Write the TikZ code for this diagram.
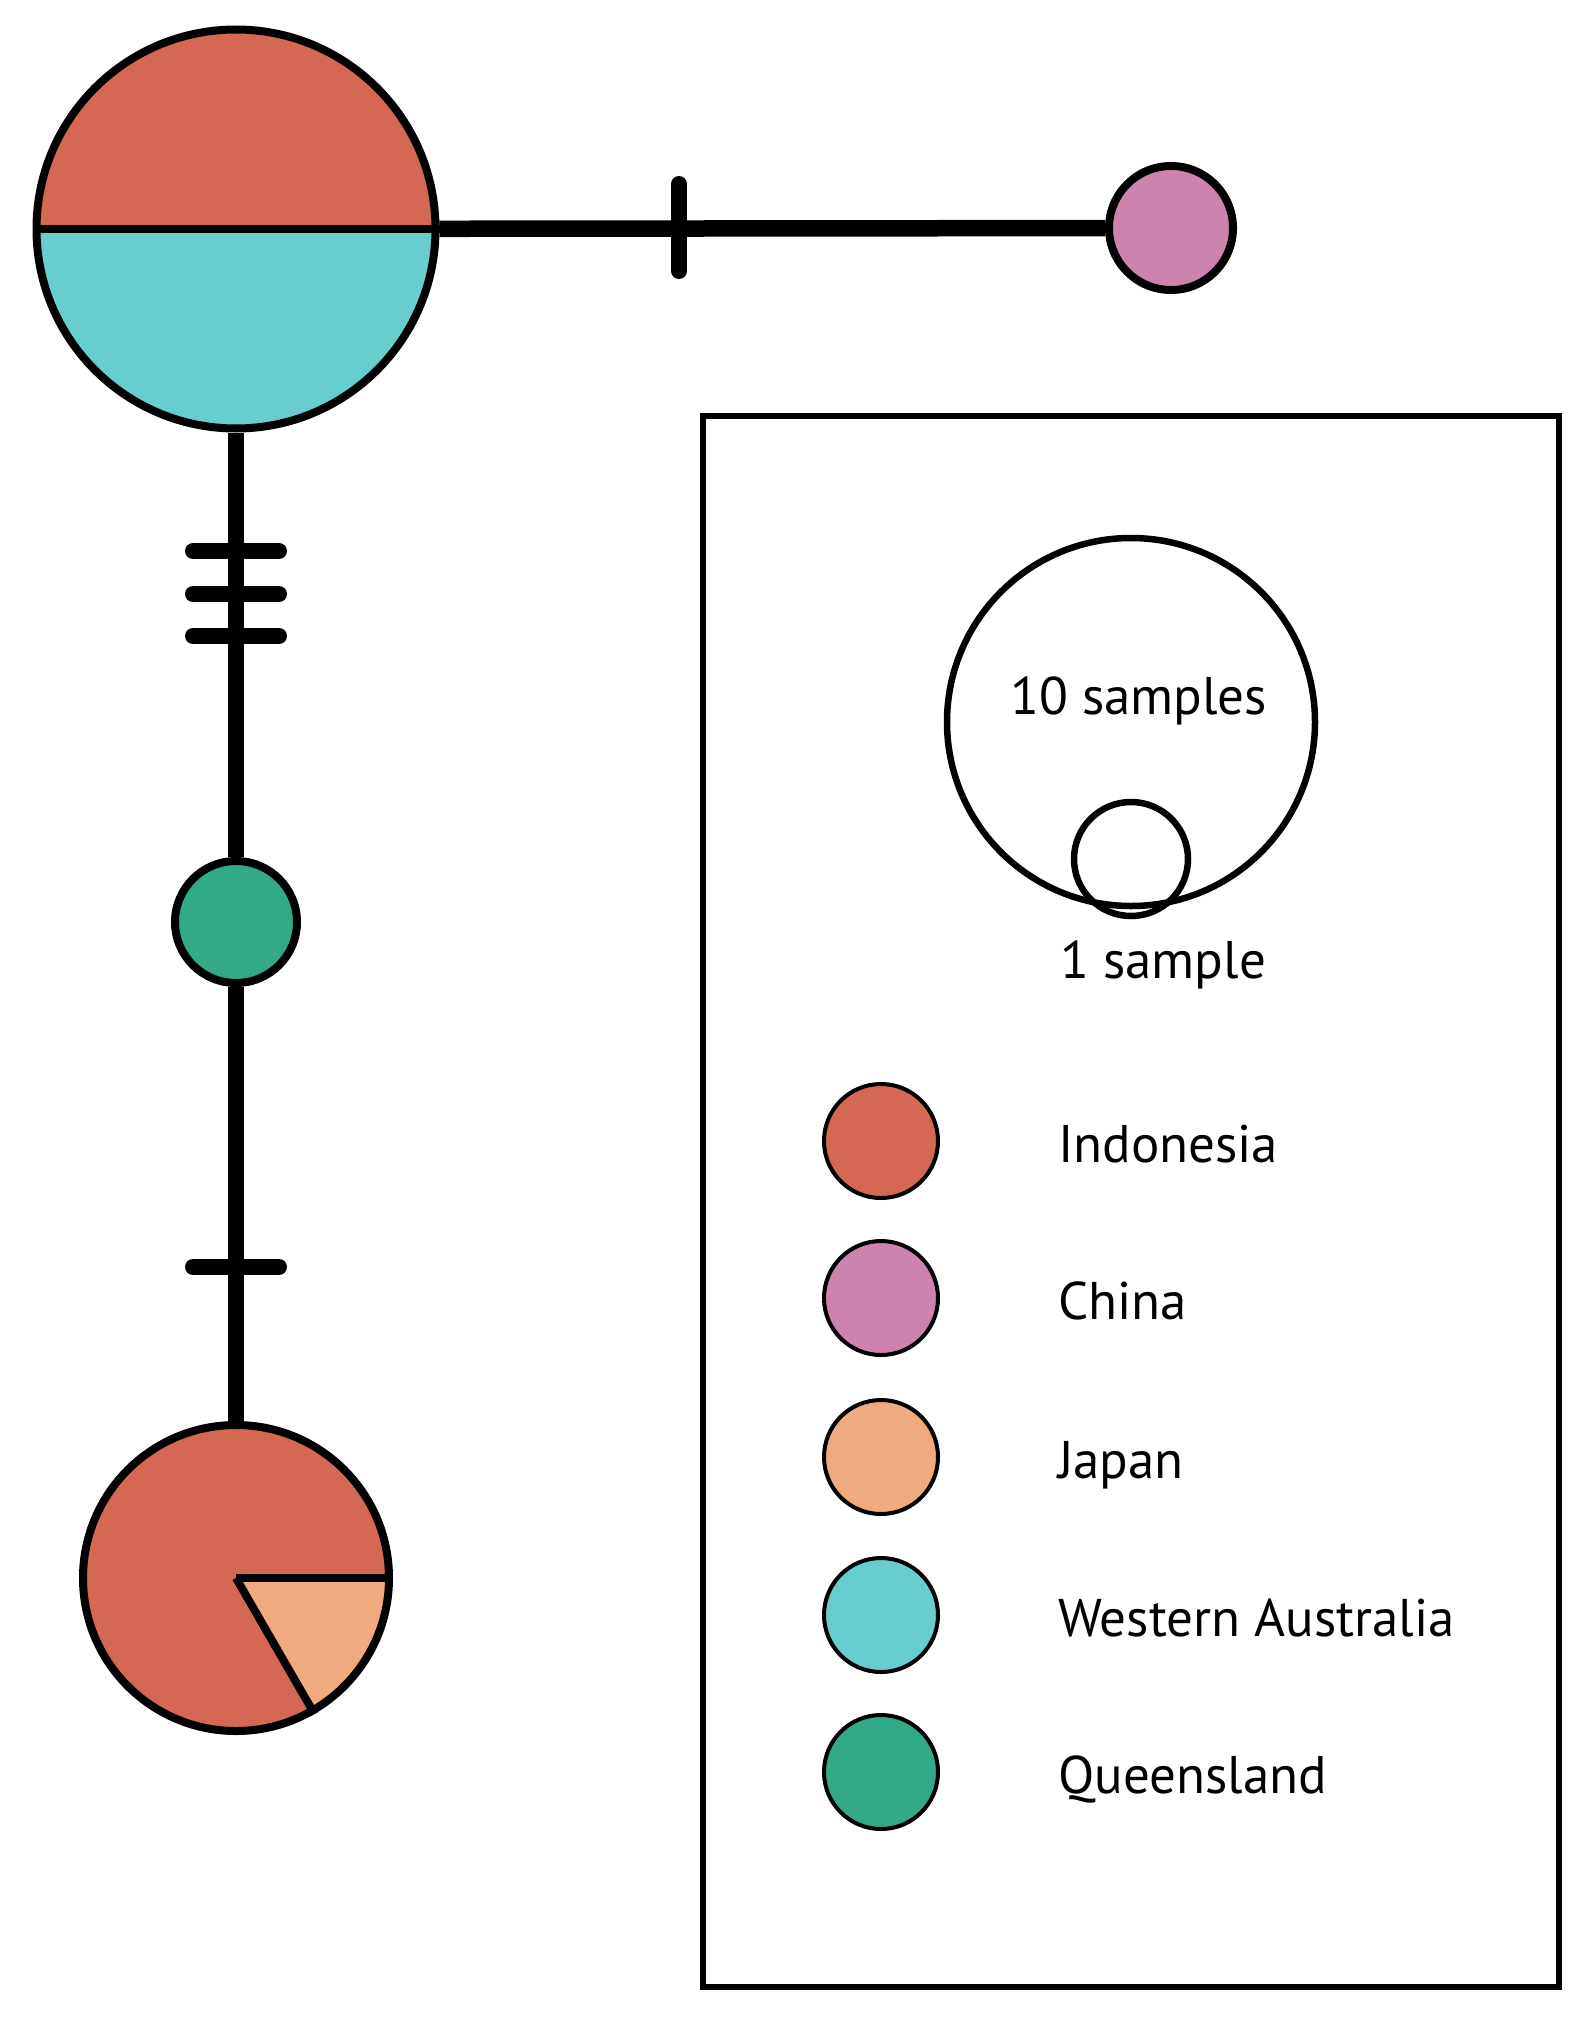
\documentclass[tikz,border=0pt]{standalone}
\usepackage{fontspec}
\setmainfont{PT Sans}
\usetikzlibrary{calc}

\definecolor{indo}{HTML}{D46852}
\definecolor{china}{HTML}{CD83AD}
\definecolor{japan}{HTML}{EFAA7F}
\definecolor{wa}{HTML}{67CDCD}
\definecolor{qld}{HTML}{32AA87}

\begin{document}
\begin{tikzpicture}[
    x=1pt, y=1pt,
    font=\fontsize{53}{64}\selectfont,
    hap/.style={draw, circle, line width=8pt, inner sep=0pt},
    link/.style={line width=16.5pt},
    tick/.style={line width=16pt, line cap=round},
    key/.style={draw, circle, line width=4pt, inner sep=0pt, minimum size=114pt},
    keytext/.style={anchor=base west, inner sep=0pt},
    sizekey/.style={draw, circle, line width=6.5pt, inner sep=0pt}
  ]
    \useasboundingbox (0,0) rectangle (1584,-2020);

    % haplotype network
    \node[hap, minimum size=399pt,
      path picture={
        \fill[indo] (path picture bounding box.west) rectangle (path picture bounding box.north east);
        \fill[wa] (path picture bounding box.west) rectangle (path picture bounding box.south east);
      }] (hapA) at (236,-229) {};
    \node[hap, fill=china, minimum size=124pt] (hapB) at (1171,-228) {};
    \node[hap, fill=qld, minimum size=122pt] (hapC) at (236,-922) {};
    \node[hap, fill=indo, minimum size=306pt,
      path picture={
        \fill[japan] (path picture bounding box.center) -- ++(0:160) arc (0:-60:160) -- cycle;
      }] (hapD) at (236,-1578) {};
    \draw[line width=8pt] (hapA.west) -- (hapA.east);
    \draw[line width=8pt] (hapD.center) -- (hapD.east);
    \draw[line width=8pt] (hapD.center) -- (hapD.-60);

    \draw[link] (hapA) -- (hapB);
    \draw[link] (hapA) -- (hapC);
    \draw[link] (hapC) -- (hapD);

    % mutation steps
    \draw[tick] (679,-184) -- (679,-271);
    \foreach \y in {551,594,636,1267}
      \draw[tick] (193,-\y) -- (279,-\y);

    % legend
    \draw[line width=6pt] (703,-416) rectangle (1559,-1987);
    \node[sizekey, minimum size=368pt] (ten) at (1131,-722) {};
    \node[sizekey, minimum size=114pt] (one) at (1131,-859) {};
    \node[keytext] (tenlab) at (1010,-714) {10 samples};
    \node[keytext] (onelab) at (1060,-978) {1 sample};

    \foreach \c/\t/\y in {indo/Indonesia/1141, china/China/1298, japan/Japan/1457,
                          wa/Western Australia/1615, qld/Queensland/1772} {
      \node[key, fill=\c] (k\c) at (881,-\y) {};
      \node[keytext] (l\c) at (1058,-\y-21) {\t};
    }
\end{tikzpicture}
\end{document}
